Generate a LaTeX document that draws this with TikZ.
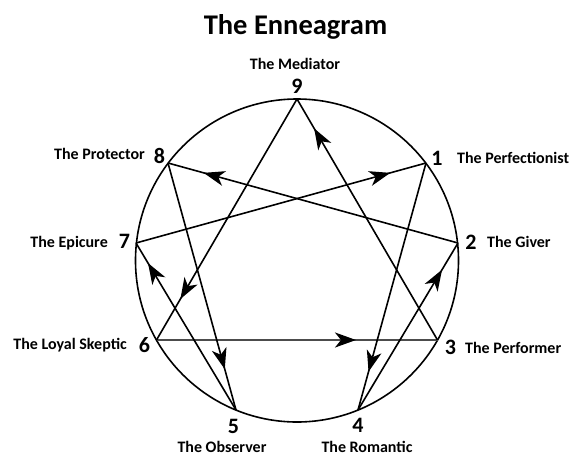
\documentclass[tikz,border=0pt]{standalone}
\usepackage{fontspec}
\setmainfont{Carlito}
\usetikzlibrary{arrows.meta,decorations.markings}
\tikzset{
  edge/.style={line width=1.6pt, black},
  thick63/.style={line width=2.4pt, black!70},
  arrowat/.style={postaction={decorate},
    decoration={markings, mark=at position #1 with {\arrow[black]{Stealth[length=21pt,width=15pt,inset=6pt]}}}},
  numlbl/.style={font=\bfseries\fontsize{22}{22}\selectfont, anchor=base, inner sep=0pt},
  namelbl/.style={font=\bfseries\fontsize{16}{16}\selectfont, anchor=base, inner sep=0pt},
}
\begin{document}
\begin{tikzpicture}[x=1pt,y=-1pt]
\useasboundingbox (0,0) rectangle (571,456);
\node[font=\bfseries\fontsize{28.5}{28.5}\selectfont, anchor=base, inner sep=0pt] (title) at (295.5,34) {The Enneagram};
\node[circle, draw, line width=1.6pt, minimum size=323pt, inner sep=0pt] (ring) at (297,260.5) {};
\coordinate (p9) at (297,99);
\coordinate (p1) at (426,163);
\coordinate (p2) at (458,243);
\coordinate (p3) at (437.5,340);
\coordinate (p4) at (358,410);
\coordinate (p5) at (236,410);
\coordinate (p6) at (156.5,340);
\coordinate (p7) at (136,243);
\coordinate (p8) at (168,163);
% triangle
\draw[thick63, arrowat=0.71] (p6) -- (p3);
\draw[edge, arrowat=0.878] (p3) -- (p9);
\draw[edge, arrowat=0.83] (p9) -- (p6);
% hexad
\draw[edge, arrowat=0.845] (p1) -- (p4);
\draw[edge, arrowat=0.84] (p4) -- (p2);
\draw[edge, arrowat=0.877] (p2) -- (p8);
\draw[edge, arrowat=0.835] (p8) -- (p5);
\draw[edge, arrowat=0.88] (p5) -- (p7);
\draw[edge, arrowat=0.877] (p7) -- (p1);
% numbers
\node[numlbl] (n9) at (297,93) {9};
\node[numlbl] (n1) at (437,165) {1};
\node[numlbl] (n2) at (471,249) {2};
\node[numlbl] (n3) at (450.5,354) {3};
\node[numlbl] (n4) at (358,432) {4};
\node[numlbl] (n5) at (233.5,433) {5};
\node[numlbl] (n6) at (144.5,352) {6};
\node[numlbl] (n7) at (124.5,248) {7};
\node[numlbl] (n8) at (159.5,163) {8};
% names
\node[namelbl] (t9) at (295,69) {The Mediator};
\node[namelbl, anchor=base west] (t1) at (457,163) {The Perfectionist};
\node[namelbl, anchor=base west] (t2) at (487,247) {The Giver};
\node[namelbl, anchor=base west] (t3) at (465,353) {The Performer};
\node[namelbl] (t4) at (367,452) {The Romantic};
\node[namelbl] (t5) at (222,452) {The Observer};
\node[namelbl, anchor=base east] (t6) at (127,349) {The Loyal Skeptic};
\node[namelbl, anchor=base east] (t7) at (108,247) {The Epicure};
\node[namelbl, anchor=base east] (t8) at (145,159) {The Protector};
\end{tikzpicture}
\end{document}
